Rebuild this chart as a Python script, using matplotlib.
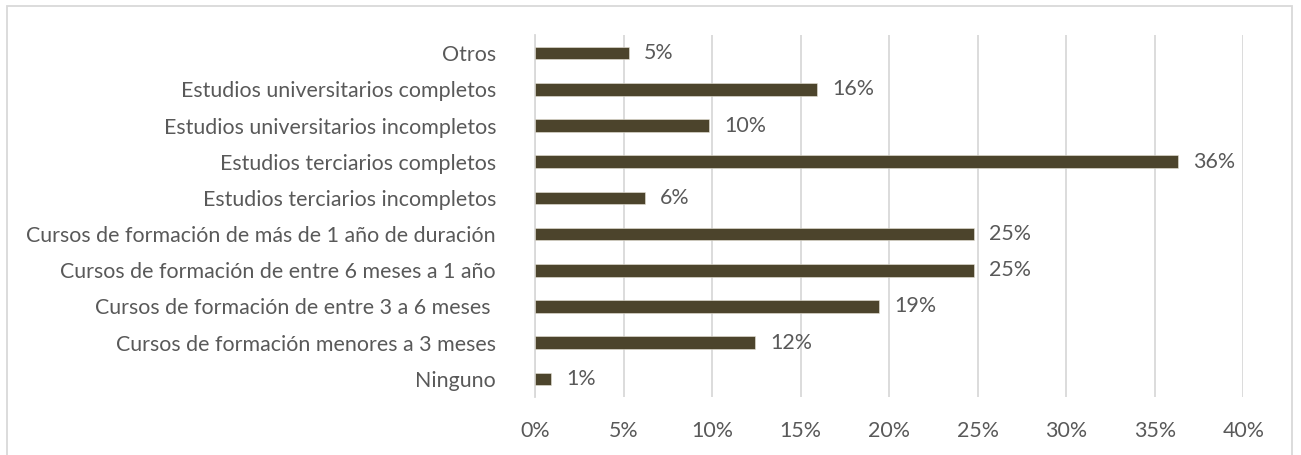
import matplotlib.pyplot as plt
from matplotlib.patches import Rectangle
from matplotlib.ticker import FuncFormatter

# categories (bottom to top) and shares in %
categories = [
    "Ninguno",
    "Cursos de formación menores a 3 meses",
    "Cursos de formación de entre 3 a 6 meses ",
    "Cursos de formación de entre 6 meses a 1 año",
    "Cursos de formación de más de 1 año de duración",
    "Estudios terciarios incompletos",
    "Estudios terciarios completos",
    "Estudios universitarios incompletos",
    "Estudios universitarios completos",
    "Otros",
]
values = [0.9, 12.4, 19.4, 24.8, 24.8, 6.2, 36.3, 9.8, 15.9, 5.3]
xticks = [0, 5, 10, 15, 20, 25, 30, 35, 40]

plt.rcParams['font.family'] = ['Lato', 'DejaVu Sans']
text_color = '#595959'
grid_color = '#d9d9d9'
bar_color = '#4c442c'
fs = 15.4

fig = plt.figure(figsize=(13.01, 4.55), dpi=100)
W, H = 1301, 455
ax = fig.add_axes([535 / W, 1 - 397 / H, (1243.3 - 535) / W, 362 / H])

y = range(len(categories))
ax.barh(y, values, height=0.35, color=bar_color, edgecolor='#e8e4d8', linewidth=0.4, zorder=3)
for i, v in enumerate(values):
    ax.annotate(f"{round(v)}%", (v, i), xytext=(11, 0), textcoords='offset points',
                va='center', ha='left', fontsize=fs, color=text_color)

ax.set_xlim(0, 40)
ax.set_ylim(-0.5, 9.5)
ax.set_xticks(xticks)
ax.xaxis.set_major_formatter(FuncFormatter(lambda v, p: f"{v:.0f}%"))
ax.set_yticks(list(y))
ax.set_yticklabels(categories)
ax.tick_params(axis='x', length=0, pad=17, labelsize=fs, labelcolor=text_color)
ax.tick_params(axis='y', length=0, pad=28, labelsize=fs, labelcolor=text_color)
ax.grid(axis='x', color=grid_color, linewidth=1.3, zorder=0)
for s in ['top', 'right', 'bottom']:
    ax.spines[s].set_visible(False)
ax.spines['left'].set_color(grid_color)
ax.spines['left'].set_linewidth(1.3)

# chart frame
fig.patches.append(Rectangle((7 / W, -0.1), (1292 - 7) / W, 1 - 6 / H + 0.1,
                             transform=fig.transFigure, fill=False,
                             edgecolor=grid_color, linewidth=1.3))

fig.savefig("out.png", dpi=100)
